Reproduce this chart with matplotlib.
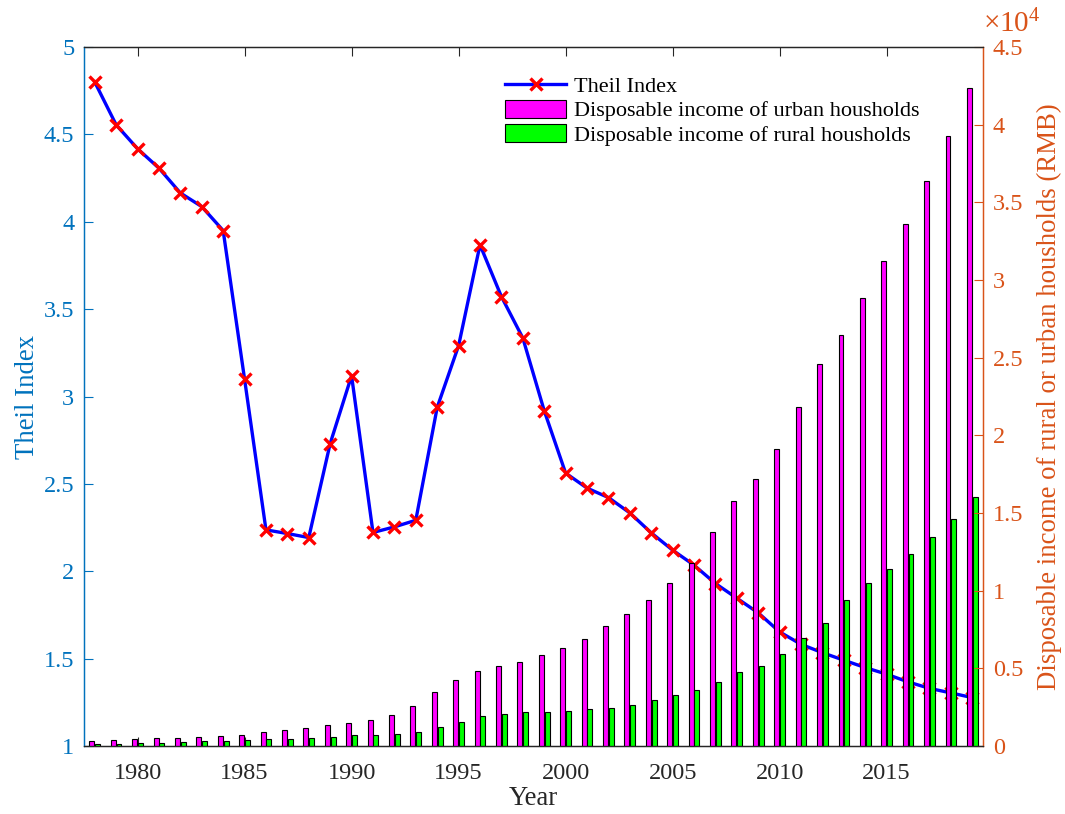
import matplotlib
matplotlib.use("Agg")
import matplotlib.pyplot as plt
from matplotlib.ticker import FuncFormatter
import numpy as np

plt.rcParams['font.family'] = ['Liberation Serif', 'DejaVu Serif']
plt.rcParams['mathtext.default'] = 'regular'

years = list(range(1978, 2020))

theil = [4.80, 4.555, 4.418, 4.307, 4.165, 4.087, 3.950, 3.100, 2.237, 2.216,
         2.193, 2.731, 3.119, 2.222, 2.254, 2.292, 2.938, 3.291, 3.868, 3.572,
         3.335, 2.919, 2.562, 2.476, 2.422, 2.334, 2.220, 2.121, 2.035, 1.930,
         1.846, 1.762, 1.653, 1.582, 1.534, 1.491, 1.449, 1.411, 1.367, 1.330,
         1.304, 1.277]

urban = [343, 405, 478, 500, 535, 565, 652, 739, 900, 1002,
         1180, 1374, 1510, 1701, 2027, 2577, 3496, 4283, 4839, 5160,
         5425, 5854, 6280, 6860, 7703, 8472, 9422, 10493, 11759, 13786,
         15781, 17175, 19109, 21810, 24565, 26467, 28844, 31195, 33616, 36396,
         39251, 42359]

rural = [134, 160, 191, 223, 270, 310, 355, 398, 424, 463,
         545, 602, 686, 709, 784, 922, 1221, 1578, 1926, 2090,
         2162, 2210, 2253, 2366, 2476, 2622, 2936, 3255, 3587, 4140,
         4761, 5153, 5919, 6977, 7917, 9430, 10489, 11422, 12363, 13432,
         14617, 16021]

BLUE = '#0072BD'
ORANGE = '#D95319'
DARK = '#262626'
TICK_FS = 17.5
LABEL_FS = 19.3

fig = plt.figure(figsize=(10.65, 8.14), dpi=100)
ax1 = fig.add_axes([0.0789, 0.0835, 0.8441, 0.8587])
ax2 = ax1.twinx()

x = np.array(years)

# Theil index line (left axis, sits under the bars)
line, = ax1.plot(x, theil, color='#0000FF', lw=2.4, marker='x', ms=8,
                 mec='#FF0000', mew=2.4, label='Theil Index')
ax1.set_ylim(1, 5)
ax1.set_xlim(1977.5, 2019.5)
ax1.set_yticks(np.arange(1, 5.01, 0.5))
ax1.set_yticklabels(['1', '1.5', '2', '2.5', '3', '3.5', '4', '4.5', '5'])
ax1.set_xticks(range(1980, 2016, 5))

# grouped bars (right axis)
w = 0.23
b1 = ax2.bar(x - 0.135, urban, width=w, color='#FF00FF', edgecolor='black',
             lw=0.8, label='Disposable income of urban housholds')
b2 = ax2.bar(x + 0.135, rural, width=w, color='#00FF00', edgecolor='black',
             lw=0.8, label='Disposable income of rural housholds')
ax2.set_ylim(0, 45000)
ax2.set_yticks(np.arange(0, 45001, 5000))
ax2.yaxis.set_major_formatter(FuncFormatter(lambda v, p: '%g' % (v / 1e4)))
ax2.text(1.0, 1.012, '×10$^{4}$', transform=ax2.transAxes, color=ORANGE,
         fontsize=21, ha='left', va='bottom')

# spines and ticks
for s in ['top', 'bottom']:
    ax1.spines[s].set_color(DARK)
    ax2.spines[s].set_color(DARK)
ax1.spines['left'].set_color(BLUE)
ax2.spines['left'].set_color(BLUE)
ax1.spines['right'].set_color(ORANGE)
ax2.spines['right'].set_color(ORANGE)
for sp in list(ax1.spines.values()) + list(ax2.spines.values()):
    sp.set_linewidth(0.9)

ax1.tick_params(axis='x', direction='in', length=6.5, width=0.8, colors=DARK,
                top=True, labelsize=TICK_FS, pad=12)
ax1.tick_params(axis='y', direction='in', length=6.5, width=0.8, colors=BLUE,
                labelsize=TICK_FS, pad=7)
ax2.tick_params(axis='y', direction='in', length=6.5, width=0.8, colors=ORANGE,
                labelsize=TICK_FS, pad=7)

ax1.set_xlabel('Year', fontsize=LABEL_FS, color=DARK, labelpad=2)
ax1.set_ylabel('Theil Index', fontsize=LABEL_FS, color=BLUE, labelpad=3)
ax2.set_ylabel('Disposable income of rural or urban housholds (RMB)',
               fontsize=LABEL_FS, color=ORANGE, labelpad=10)

ax2.legend([line, b1, b2],
           ['Theil Index', 'Disposable income of urban housholds',
            'Disposable income of rural housholds'],
           loc='upper left', bbox_to_anchor=(0.456, 0.975), frameon=False,
           fontsize=16, borderpad=0, handlelength=2.75, handleheight=0.85,
           handletextpad=0.35, labelspacing=0.12)

fig.savefig('out.png', dpi=100)
